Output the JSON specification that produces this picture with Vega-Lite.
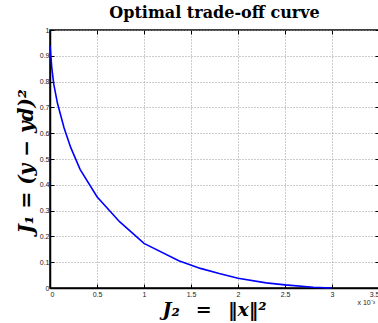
{
  "$schema": "https://vega.github.io/schema/vega-lite/v6.json",
  "autosize": "none",
  "width": 329,
  "height": 258,
  "padding": {"left": 50, "top": 30, "right": 0, "bottom": 35},
  "background": "white",
  "title": {
    "text": "Optimal trade-off curve",
    "font": "DejaVu Serif",
    "fontSize": 16,
    "fontWeight": "bold",
    "color": "black",
    "offset": 5,
    "anchor": "middle"
  },
  "config": {
    "view": {"stroke": "black", "strokeWidth": 1.5},
    "axis": {
      "grid": true,
      "gridColor": "#999999",
      "gridDash": [1, 2],
      "gridWidth": 1,
      "domainColor": "black",
      "domainWidth": 1.5,
      "tickColor": "black",
      "tickSize": -4,
      "labelOverlap": false,
      "labelFont": "Liberation Sans",
      "labelFontSize": 7,
      "labelColor": "#222222",
      "titleColor": "black",
      "titleFont": "DejaVu Serif",
      "titleFontStyle": "italic",
      "titleFontWeight": "bold"
    }
  },
  "resolve": {"axis": {"x": "independent", "y": "independent"}},
  "data": {
    "values": [
      {"x": 0.0, "y": 0.94},
      {"x": 0.00002, "y": 0.85},
      {"x": 0.00004, "y": 0.79},
      {"x": 0.00008, "y": 0.715},
      {"x": 0.00015, "y": 0.62},
      {"x": 0.00022, "y": 0.545},
      {"x": 0.00032, "y": 0.46},
      {"x": 0.0005, "y": 0.354},
      {"x": 0.00074, "y": 0.257},
      {"x": 0.001, "y": 0.173},
      {"x": 0.00137, "y": 0.106},
      {"x": 0.0016, "y": 0.076},
      {"x": 0.0018, "y": 0.056},
      {"x": 0.002, "y": 0.038},
      {"x": 0.0023, "y": 0.02},
      {"x": 0.0025, "y": 0.012},
      {"x": 0.0028, "y": 0.003},
      {"x": 0.003, "y": 0.0}
    ]
  },
  "layer": [
    {
      "mark": {"type": "line", "color": "#0000ff", "strokeWidth": 1.6},
      "encoding": {
        "x": {
          "field": "x",
          "type": "quantitative",
          "scale": {"domain": [0, 0.0035], "nice": false},
          "axis": {
            "values": [0, 0.0005, 0.001, 0.0015, 0.002, 0.0025, 0.003, 0.0035],
            "tickCount": 8,
            "labelExpr": "format(datum.value * 1000, '')",
            "labelOverlap": false,
            "title": "J₂ \u2002= \u2002‖x‖²",
            "titleFontSize": 19,
            "titlePadding": 3,
            "titleX": 164,
            "labelPadding": 6
          }
        },
        "y": {
          "field": "y",
          "type": "quantitative",
          "scale": {"domain": [0, 1], "nice": false},
          "axis": {
            "values": [0, 0.1, 0.2, 0.3, 0.4, 0.5, 0.6, 0.7, 0.8, 0.9, 1],
            "tickCount": 11,
            "labelExpr": "format(datum.value, '~g')",
            "labelOverlap": false,
            "title": "J₁ = (y − yd)²",
            "titleFontSize": 20,
            "titleX": -24,
            "titleY": 131,
            "titleAlign": "center",
            "titleBaseline": "middle",
            "titleAngle": -90,
            "labelPadding": 5
          }
        }
      }
    },
    {
      "data": {"values": [{"x": 0.0035, "y": 0, "t": "x 10⁻³"}]},
      "mark": {"type": "text", "fontSize": 7, "font": "Liberation Sans", "align": "right", "dy": 15, "dx": -4, "color": "#222222"},
      "encoding": {
        "x": {
          "field": "x",
          "type": "quantitative",
          "axis": {
            "orient": "top",
            "values": [0, 0.0005, 0.001, 0.0015, 0.002, 0.0025, 0.003, 0.0035],
            "tickCount": 8,
            "labels": false,
            "grid": false,
            "domain": false,
            "title": null
          }
        },
        "y": {
          "field": "y",
          "type": "quantitative",
          "axis": {
            "orient": "right",
            "values": [0, 0.1, 0.2, 0.3, 0.4, 0.5, 0.6, 0.7, 0.8, 0.9, 1],
            "tickCount": 11,
            "labels": false,
            "grid": false,
            "domain": false,
            "title": null
          }
        },
        "text": {"field": "t"}
      }
    }
  ]
}
